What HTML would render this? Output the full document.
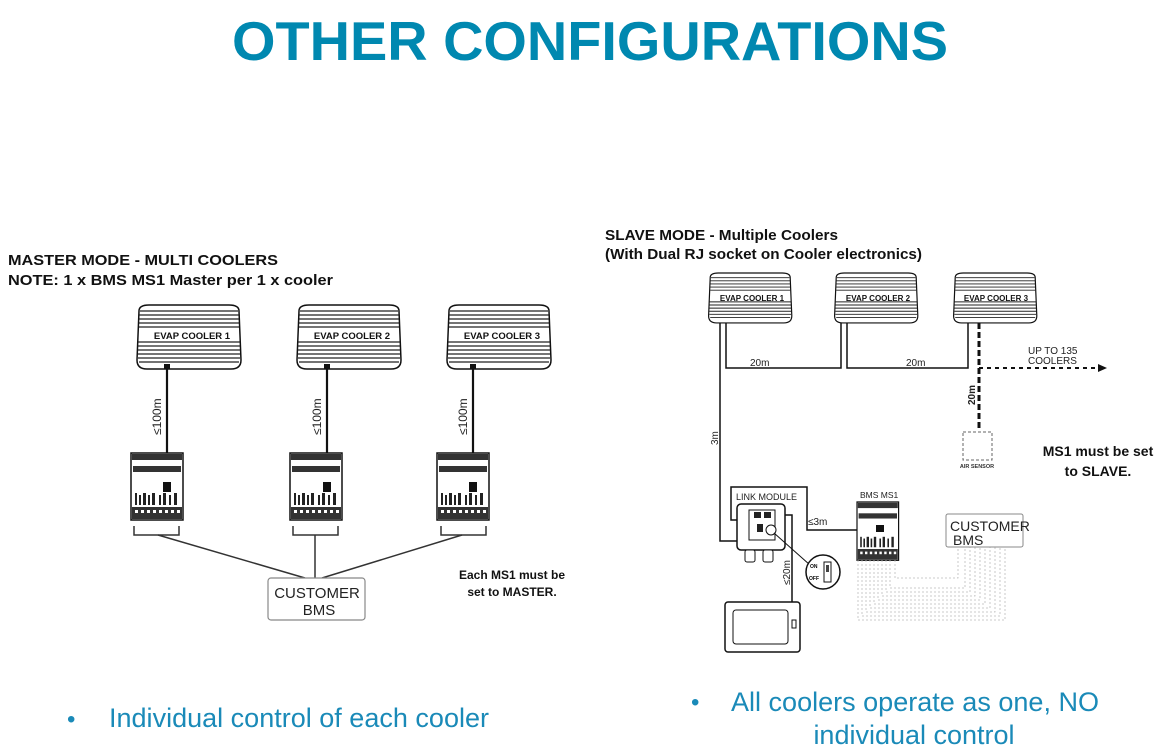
<!DOCTYPE html>
<html><head><meta charset="utf-8"><style>
html,body{margin:0;padding:0;background:#fff;}
svg{display:block;font-family:"Liberation Sans",Arial,sans-serif;}
</style></head><body>
<svg width="1163" height="753" viewBox="0 0 1163 753" xmlns="http://www.w3.org/2000/svg">
<defs>
<g id="cool">
  <path d="M4,6 Q4,0 14,0 L94,0 Q104,0 104,6 L106,55 Q106,64 96,64 L12,64 Q2,64 2,55 Z" fill="#fff" stroke="#111" stroke-width="1.5"/>
  <g stroke="#222" stroke-width="1.2">
    <line x1="5" y1="6" x2="103" y2="6"/><line x1="4" y1="10" x2="104" y2="10"/>
    <line x1="4" y1="14" x2="104" y2="14"/><line x1="4" y1="18" x2="104" y2="18"/>
    <line x1="4" y1="22" x2="104" y2="22"/>
    <line x1="3" y1="37" x2="105" y2="37"/><line x1="3" y1="41" x2="105" y2="41"/>
    <line x1="3" y1="45" x2="105" y2="45"/><line x1="3" y1="49" x2="105" y2="49"/>
    <line x1="3" y1="53" x2="105" y2="53"/><line x1="4" y1="57" x2="104" y2="57"/>
  </g>
</g>
<g id="mod">
  <rect x="0" y="0" width="52" height="67" fill="#fff" stroke="#111" stroke-width="1.5"/>
  <rect x="1" y="1" width="50" height="6" fill="#333"/>
  <rect x="2" y="13" width="48" height="6" fill="#333"/>
  <g fill="#222"><rect x="4" y="40" width="2" height="12"/><rect x="8" y="42" width="2" height="10"/><rect x="12" y="40" width="3" height="12"/><rect x="17" y="42" width="2" height="10"/><rect x="21" y="40" width="3" height="12"/><rect x="28" y="42" width="2" height="10"/><rect x="32" y="40" width="3" height="12"/><rect x="38" y="42" width="2" height="10"/><rect x="43" y="40" width="3" height="12"/></g>
  <rect x="1" y="54" width="50" height="12" fill="#333"/>
  <g fill="#fff"><rect x="4" y="57" width="3" height="3"/><rect x="10" y="57" width="3" height="3"/><rect x="16" y="57" width="3" height="3"/><rect x="22" y="57" width="3" height="3"/><rect x="28" y="57" width="3" height="3"/><rect x="34" y="57" width="3" height="3"/><rect x="40" y="57" width="3" height="3"/><rect x="46" y="57" width="3" height="3"/></g>
</g>
</defs>

<text x="590" y="60" text-anchor="middle" font-size="55" font-weight="bold" fill="#0088b0" textLength="716" lengthAdjust="spacingAndGlyphs">OTHER CONFIGURATIONS</text>

<!-- LEFT -->
<g font-size="15" font-weight="bold" fill="#111">
<text x="8" y="265" textLength="270" lengthAdjust="spacingAndGlyphs">MASTER MODE - MULTI COOLERS</text>
<text x="8" y="285" textLength="325" lengthAdjust="spacingAndGlyphs">NOTE: 1 x BMS MS1 Master per 1 x cooler</text>
</g>
<use href="#cool" x="135" y="305"/><use href="#cool" x="295" y="305"/><use href="#cool" x="445" y="305"/>
<g font-size="9.5" font-weight="bold" fill="#111" text-anchor="middle">
<text x="192" y="339">EVAP COOLER 1</text><text x="352" y="339">EVAP COOLER 2</text><text x="502" y="339">EVAP COOLER 3</text>
</g>
<g stroke="#111" stroke-width="2.2" fill="none">
<line x1="167" y1="367" x2="167" y2="490"/><line x1="327" y1="367" x2="327" y2="490"/><line x1="473" y1="367" x2="473" y2="490"/>
</g>
<g fill="#111"><rect x="164" y="364" width="6" height="5"/><rect x="324" y="364" width="6" height="5"/><rect x="470" y="364" width="6" height="5"/></g>
<g font-size="12" fill="#222">
<text transform="translate(161,435) rotate(-90)">≤100m</text>
<text transform="translate(321,435) rotate(-90)">≤100m</text>
<text transform="translate(467,435) rotate(-90)">≤100m</text>
</g>
<use href="#mod" x="131" y="453"/><use href="#mod" x="290" y="453"/><use href="#mod" x="437" y="453"/>
<g fill="#111"><rect x="163" y="482" width="8" height="10"/><rect x="323" y="482" width="8" height="10"/><rect x="469" y="482" width="8" height="10"/></g>
<g stroke="#333" stroke-width="1.5" fill="none">
<path d="M134,526 V535 H179 V526"/><path d="M293,526 V535 H338 V526"/><path d="M441,526 V535 H486 V526"/>
<line x1="158" y1="535" x2="305" y2="578"/><line x1="315" y1="535" x2="315" y2="578"/><line x1="462" y1="535" x2="322" y2="578"/>
</g>
<rect x="268" y="578" width="97" height="42" rx="3" fill="#fff" stroke="#888" stroke-width="1.2"/>
<g font-size="15" fill="#222" text-anchor="middle"><text x="317" y="598">CUSTOMER</text><text x="319" y="615">BMS</text></g>
<g font-size="12" font-weight="bold" fill="#111" text-anchor="middle"><text x="512" y="579">Each MS1 must be</text><text x="512" y="596">set to MASTER.</text></g>

<!-- RIGHT -->
<g font-size="14.5" font-weight="bold" fill="#111">
<text x="605" y="240" textLength="233" lengthAdjust="spacingAndGlyphs">SLAVE MODE - Multiple Coolers</text>
<text x="605" y="259" textLength="317" lengthAdjust="spacingAndGlyphs">(With Dual RJ socket on Cooler electronics)</text>
</g>
<g transform="translate(707,273) scale(0.8,0.78)"><use href="#cool"/></g>
<g transform="translate(833,273) scale(0.8,0.78)"><use href="#cool"/></g>
<g transform="translate(952,273) scale(0.8,0.78)"><use href="#cool"/></g>
<g font-size="8" font-weight="bold" fill="#111" text-anchor="middle">
<text x="752" y="301">EVAP COOLER 1</text><text x="878" y="301">EVAP COOLER 2</text><text x="996" y="301">EVAP COOLER 3</text>
</g>
<g stroke="#111" stroke-width="1.5" fill="none">
<path d="M726,323 V368 H841 V323"/><path d="M847,323 V368 H968 V323"/>
<path d="M720,323 V541 H760"/>
<path d="M762,520 H731 V487 H807 V530 H880"/>
<path d="M782,515 H792 V602"/>
</g>
<line x1="979" y1="323" x2="979" y2="430" stroke="#111" stroke-width="3" stroke-dasharray="6,3"/>
<line x1="979" y1="368" x2="1098" y2="368" stroke="#111" stroke-width="2" stroke-dasharray="4,4"/>
<path d="M1098,364 L1107,368 L1098,372 Z" fill="#111"/>
<g font-size="10" fill="#222"><text x="750" y="366">20m</text><text x="906" y="366">20m</text>
<text x="1028" y="354">UP TO 135</text><text x="1028" y="364">COOLERS</text></g>
<text transform="translate(975,405) rotate(-90)" font-size="10" font-weight="bold" fill="#222">20m</text>
<text transform="translate(718,445) rotate(-90)" font-size="10" fill="#222">3m</text>
<rect x="963" y="432" width="29" height="28" fill="none" stroke="#666" stroke-dasharray="3,2"/>
<text x="977" y="468" font-size="5.5" font-weight="bold" fill="#333" text-anchor="middle">AIR SENSOR</text>
<g font-size="14" font-weight="bold" fill="#111" text-anchor="middle"><text x="1098" y="456">MS1 must be set</text><text x="1098" y="476">to SLAVE.</text></g>

<text x="736" y="500" font-size="9" fill="#222">LINK MODULE</text>
<rect x="737" y="504" width="48" height="46" rx="4" fill="#fff" stroke="#111" stroke-width="1.5"/>
<rect x="749" y="510" width="26" height="30" fill="#fff" stroke="#111"/>
<rect x="754" y="512" width="7" height="6" fill="#222"/><rect x="764" y="512" width="7" height="6" fill="#222"/>
<rect x="757" y="524" width="6" height="8" fill="#222"/>
<circle cx="771" cy="530" r="5" fill="#fff" stroke="#111"/>
<rect x="745" y="550" width="10" height="12" rx="2" fill="#fff" stroke="#111"/>
<rect x="763" y="550" width="10" height="12" rx="2" fill="#fff" stroke="#111"/>
<line x1="774" y1="533" x2="810" y2="565" stroke="#111"/>
<circle cx="823" cy="572" r="17" fill="#fff" stroke="#111" stroke-width="1.5"/>
<rect x="824" y="562" width="7" height="20" fill="#fff" stroke="#111"/>
<rect x="826" y="565" width="3" height="7" fill="#444"/>
<text x="810" y="568" font-size="5" font-weight="bold">ON</text><text x="809" y="580" font-size="5" font-weight="bold">OFF</text>
<text transform="translate(790,585) rotate(-90)" font-size="10" fill="#222">≤20m</text>
<text x="808" y="525" font-size="10" fill="#222">≤3m</text>
<text x="860" y="498" font-size="8.5" fill="#222">BMS MS1</text>
<g transform="translate(857,502) scale(0.8,0.87)"><use href="#mod"/></g>
<rect x="876" y="525" width="8" height="7" fill="#111"/>
<rect x="725" y="602" width="75" height="50" rx="3" fill="#fff" stroke="#111" stroke-width="1.5"/>
<rect x="733" y="610" width="55" height="34" rx="3" fill="#fff" stroke="#111"/>
<rect x="792" y="620" width="4" height="8" fill="#fff" stroke="#111"/>
<g stroke="#bbb" stroke-width="0.8" stroke-dasharray="2,2" fill="none">
<path d="M858,560 V620 H1005 V547"/><path d="M862,560 V616 H1000 V547"/><path d="M866,560 V612 H995 V547"/>
<path d="M870,560 V608 H990 V547"/><path d="M874,560 V604 H985 V547"/><path d="M878,560 V600 H980 V547"/>
<path d="M882,560 V596 H975 V547"/><path d="M886,560 V592 H970 V547"/><path d="M890,560 V588 H965 V547"/>
<path d="M895,560 V578 H958 V547"/>
</g>
<rect x="946" y="514" width="77" height="33" rx="2" fill="#fff" stroke="#888"/>
<g font-size="14" fill="#222"><text x="950" y="531">CUSTOMER</text><text x="953" y="545">BMS</text></g>

<!-- bullets -->
<g font-size="27" fill="#1a8ab8">
<text x="67" y="727" font-size="24">•</text>
<text x="109" y="727" textLength="380" lengthAdjust="spacingAndGlyphs">Individual control of each cooler</text>
<text x="691" y="710" font-size="24">•</text>
<text x="731" y="711" textLength="368" lengthAdjust="spacingAndGlyphs">All coolers operate as one, NO</text>
<text x="914" y="744" text-anchor="middle">individual control</text>
</g>
</svg>
</body></html>
